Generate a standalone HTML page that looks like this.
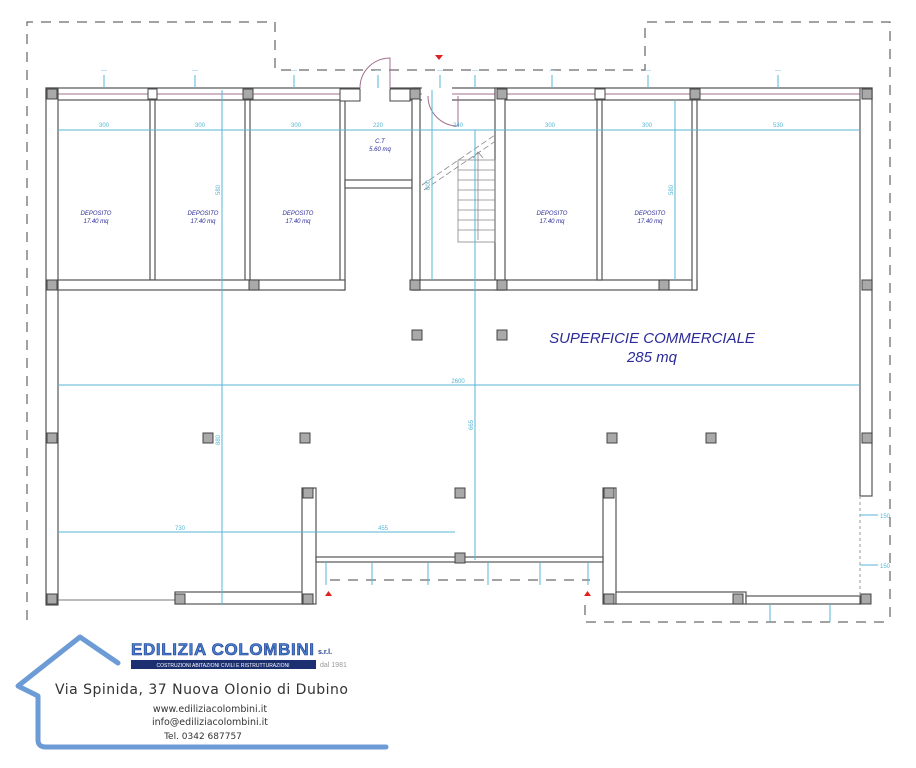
<!DOCTYPE html>
<html><head><meta charset="utf-8"><style>
html,body{margin:0;padding:0;background:#fff;width:916px;height:768px;overflow:hidden}
svg{display:block}
.w{fill:#fff;stroke:#555;stroke-width:1.2}
.c{fill:#a9a9a9;stroke:#444;stroke-width:1}
.cw{fill:#fff;stroke:#444;stroke-width:1}
.d{stroke:#57b7d6;stroke-width:1;fill:none}
.dl{fill:#57b7d6;font:6px "Liberation Sans",sans-serif;text-anchor:middle}
.ds{stroke:#444;stroke-width:1;fill:none;stroke-dasharray:10,8}
.rl{fill:#2b2b9a;font:italic 6px "Liberation Sans",sans-serif;text-anchor:middle}
</style></head><body>
<svg width="916" height="768" viewBox="0 0 916 768" xmlns="http://www.w3.org/2000/svg">
<!-- dashed outline -->
<path class="ds" d="M27 620 V22 H275 V70 H645 V22 H890 V620"/>
<path class="ds" d="M585 605 V622 H890"/>
<path class="ds" d="M330 580 H590"/>
<!-- outer walls -->
<rect class="w" x="46" y="88" width="826" height="12"/>
<line x1="58" y1="94" x2="860" y2="94" stroke="#a07090" stroke-width="1"/>
<rect class="w" x="46" y="88" width="12" height="517"/>
<rect class="w" x="860" y="88" width="12" height="408"/>
<path d="M860 496 V605" stroke="#999" stroke-dasharray="3,3"/>
<rect class="w" x="175" y="592" width="135" height="12"/>
<line x1="58" y1="600" x2="175" y2="600" stroke="#777"/>
<rect class="w" x="302" y="488" width="14" height="116"/>
<rect class="w" x="603" y="488" width="13" height="116"/>
<rect class="w" x="616" y="592" width="130" height="12"/>
<rect class="w" x="746" y="596" width="114" height="8"/>
<rect class="w" x="316" y="557" width="287" height="5"/>
<!-- interior walls -->
<rect class="w" x="150" y="100" width="5" height="180"/>
<rect class="w" x="245" y="100" width="5" height="180"/>
<rect class="w" x="340" y="100" width="5" height="190"/>
<rect class="w" x="58" y="280" width="287" height="10"/>
<rect class="w" x="345" y="180" width="67" height="8"/>
<rect class="w" x="412" y="88" width="8" height="202"/>
<rect class="w" x="495" y="88" width="10" height="202"/>
<rect class="w" x="412" y="280" width="285" height="10"/>
<rect class="w" x="597" y="100" width="5" height="180"/>
<rect class="w" x="692" y="100" width="5" height="190"/>
<rect fill="#fff" x="360" y="87" width="30" height="14"/>
<rect fill="#fff" x="422" y="87" width="30" height="14"/>
<!-- doors -->
<path d="M360 88 A30 30 0 0 1 390 58 V88" fill="none" stroke="#a07090"/>
<path d="M428 96 A30 30 0 0 0 458 126 V96" fill="none" stroke="#a07090"/>
<!-- stair -->
<g stroke="#888" fill="none" stroke-width="0.8">
<rect x="458" y="160" width="37" height="82"/>
<path d="M458 170H495M458 180H495M458 190H495M458 200H495M458 210H495M458 220H495M458 230H495"/>
<path d="M478 240V152M473 158L478 152L483 158"/>
<path d="M422 185L495 135M424 190L497 140" stroke-dasharray="6,3"/>
</g>
<!-- columns -->
<g class="c">
<rect x="47" y="89" width="10" height="10"/><rect x="243" y="89" width="10" height="10"/><rect x="410" y="89" width="10" height="10"/><rect x="497" y="89" width="10" height="10"/><rect x="690" y="89" width="10" height="10"/><rect x="862" y="89" width="10" height="10"/>
<rect x="47" y="280" width="10" height="10"/><rect x="249" y="280" width="10" height="10"/><rect x="410" y="280" width="10" height="10"/><rect x="497" y="280" width="10" height="10"/><rect x="659" y="280" width="10" height="10"/><rect x="862" y="280" width="10" height="10"/>
<rect x="412" y="330" width="10" height="10"/><rect x="497" y="330" width="10" height="10"/>
<rect x="47" y="433" width="10" height="10"/><rect x="203" y="433" width="10" height="10"/><rect x="300" y="433" width="10" height="10"/><rect x="607" y="433" width="10" height="10"/><rect x="706" y="433" width="10" height="10"/><rect x="862" y="433" width="10" height="10"/>
<rect x="303" y="488" width="10" height="10"/><rect x="455" y="488" width="10" height="10"/><rect x="604" y="488" width="10" height="10"/><rect x="455" y="553" width="10" height="10"/>
<rect x="47" y="594" width="10" height="10"/><rect x="175" y="594" width="10" height="10"/><rect x="303" y="594" width="10" height="10"/><rect x="604" y="594" width="10" height="10"/><rect x="733" y="594" width="10" height="10"/><rect x="861" y="594" width="10" height="10"/>
</g>
<g class="cw"><rect x="148" y="89" width="9" height="10"/><rect x="340" y="89" width="20" height="12"/><rect x="390" y="89" width="20" height="12"/><rect x="595" y="89" width="10" height="10"/></g>
<!-- dimension lines -->
<g class="d">
<line x1="58" y1="130" x2="860" y2="130"/>
<line x1="58" y1="385" x2="860" y2="385"/>
<line x1="58" y1="532" x2="455" y2="532"/>
<line x1="222" y1="90" x2="222" y2="605"/>
<line x1="432" y1="90" x2="432" y2="280"/>
<line x1="675" y1="100" x2="675" y2="280"/>
<line x1="475" y1="130" x2="475" y2="560"/>
<path d="M104 75V88M195 75V88M294 75V88M378 75V88M440 75V88M475 75V88M552 75V88M648 75V88M778 75V88"/>
<path d="M326 562V585M372 562V585M428 562V585M488 562V585M540 562V585M588 562V585M860 515H878M860 565H878M770 604V622M830 604V622"/>
</g>
<g class="dl">
<text x="104" y="127">300</text><text x="200" y="127">300</text><text x="296" y="127">300</text><text x="378" y="127">220</text><text x="458" y="127">240</text><text x="550" y="127">300</text><text x="647" y="127">300</text><text x="778" y="127">530</text>
<text x="458" y="383">2600</text><text x="180" y="530">730</text><text x="383" y="530">455</text>
<text transform="translate(220 190) rotate(-90)">580</text><text transform="translate(220 440) rotate(-90)">880</text><text transform="translate(473 425) rotate(-90)">665</text><text transform="translate(430 185) rotate(-90)">600</text><text transform="translate(673 190) rotate(-90)">580</text>
<text x="104" y="72">---</text><text x="195" y="72">---</text><text x="294" y="72">---</text><text x="378" y="72">---</text><text x="440" y="72">---</text><text x="475" y="72">---</text><text x="552" y="72">---</text><text x="648" y="72">---</text><text x="778" y="72">---</text>
<text x="885" y="518">150</text><text x="885" y="568">150</text>
</g>
<!-- red markers -->
<path d="M435 55h8l-4 5z M325 596h7l-3.5-5z M584 596h7l-3.5-5z" fill="#d22"/>
<!-- room labels -->
<g class="rl">
<text x="96" y="215">DEPOSITO</text><text x="96" y="223">17.40 mq</text>
<text x="203" y="215">DEPOSITO</text><text x="203" y="223">17.40 mq</text>
<text x="298" y="215">DEPOSITO</text><text x="298" y="223">17.40 mq</text>
<text x="552" y="215">DEPOSITO</text><text x="552" y="223">17.40 mq</text>
<text x="650" y="215">DEPOSITO</text><text x="650" y="223">17.40 mq</text>
<text x="380" y="143">C.T</text><text x="380" y="151">5.60 mq</text>
</g>
<text x="652" y="343" fill="#2b2b9a" font-family="Liberation Sans,sans-serif" font-style="italic" font-size="15" text-anchor="middle">SUPERFICIE COMMERCIALE</text>
<text x="652" y="362" fill="#2b2b9a" font-family="Liberation Sans,sans-serif" font-style="italic" font-size="15" text-anchor="middle">285 mq</text>
<!-- logo -->
<path d="M118 663 L80 637 L18 686 L38 696 V740 Q38 747 46 747 H386" fill="none" stroke="#6c9bd6" stroke-width="5" stroke-linecap="round" stroke-linejoin="round"/>
<text x="131" y="655" fill="#4a7fd0" stroke="#1c3b8a" stroke-width="0.6" font-family="Liberation Sans,sans-serif" font-weight="bold" font-size="17" textLength="183">EDILIZIA COLOMBINI</text>
<text x="318" y="654" fill="#1c3b8a" font-family="Liberation Sans,sans-serif" font-weight="bold" font-size="7">s.r.l.</text>
<rect x="131" y="660" width="185" height="9" fill="#1c2f70"/>
<text x="223" y="667" fill="#fff" font-family="Liberation Sans,sans-serif" font-size="5" text-anchor="middle">COSTRUZIONI ABITAZIONI CIVILI E RISTRUTTURAZIONI</text>
<text x="320" y="667" fill="#999" font-family="Liberation Sans,sans-serif" font-size="7">dal 1981</text>
<text x="55" y="694" fill="#333" font-family="DejaVu Sans,sans-serif" font-size="14" textLength="293">Via Spinida, 37 Nuova Olonio di Dubino</text>
<text x="210" y="712" fill="#333" font-family="DejaVu Sans,sans-serif" font-size="9.5" text-anchor="middle">www.ediliziacolombini.it</text>
<text x="210" y="725" fill="#333" font-family="DejaVu Sans,sans-serif" font-size="9.5" text-anchor="middle">info@ediliziacolombini.it</text>
<text x="203" y="739" fill="#333" font-family="DejaVu Sans,sans-serif" font-size="9" text-anchor="middle">Tel. 0342 687757</text>
</svg>
</body></html>
